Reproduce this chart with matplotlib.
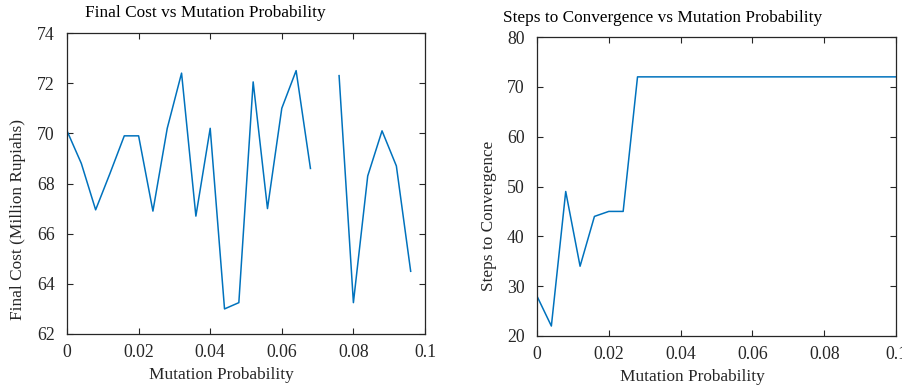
import numpy as np
import matplotlib
matplotlib.use("Agg")
import matplotlib.pyplot as plt

mutation_prob = [0.000, 0.004, 0.008, 0.012, 0.016, 0.020, 0.024, 0.028, 0.032,
                 0.036, 0.040, 0.044, 0.048, 0.052, 0.056, 0.060, 0.064, 0.068,
                 0.072, 0.076, 0.080, 0.084, 0.088, 0.092, 0.096, 0.100]
final_cost = [70.1, 68.8, 66.95, 68.4, 69.9, 69.9, 66.9, 70.2, 72.4,
              66.7, 70.2, 63.0, 63.25, 72.05, 67.0, 71.0, 72.5, 68.6,
              np.nan, 72.3, 63.25, 68.3, 70.1, 68.7, 64.5, np.nan]
steps = [28, 22, 49, 34, 44, 45, 45, 72, 72,
         72, 72, 72, 72, 72, 72, 72, 72, 72,
         72, 72, 72, 72, 72, 72, 72, 72]

xticks = [0, 0.02, 0.04, 0.06, 0.08, 0.1]
xticklabels = ["0", "0.02", "0.04", "0.06", "0.08", "0.1"]
yticks_cost = [62, 64, 66, 68, 70, 72, 74]
yticks_steps = [20, 30, 40, 50, 60, 70, 80]

plt.rcParams['font.family'] = ['Liberation Serif', 'DejaVu Serif']
W, H = 903, 392
fig = plt.figure(figsize=(W / 100, H / 100), dpi=100)
fig.patch.set_facecolor("white")

line_color = "#0072BD"
axis_color = "#262626"
label_size = 12.4
tick_size = 12.8


def style(ax):
    for s in ax.spines.values():
        s.set_color(axis_color)
        s.set_linewidth(0.9)
    ax.tick_params(direction="in", top=True, right=True, length=4, width=0.8,
                   colors=axis_color, labelsize=tick_size)
    ax.tick_params(axis="y", pad=9)
    ax.tick_params(axis="x", pad=7)


def ftext(x, y, s, **kw):
    fig.text(x / W, 1 - y / H, s, ha="center", va="center", **kw)


ax1 = fig.add_axes([67 / W, (H - 334) / H, (425 - 67) / W, (334 - 33) / H])
ax1.plot(mutation_prob, final_cost, color=line_color, lw=1.1)
ax1.set_xlim(0, 0.1)
ax1.set_ylim(62, 74)
ax1.set_xticks(xticks)
ax1.set_xticklabels(xticklabels)
ax1.set_yticks(yticks_cost)
style(ax1)
ftext(221, 375, "Mutation Probability", fontsize=label_size, color=axis_color)
ftext(18, 220, "Final Cost (Million Rupiahs)", fontsize=label_size,
      color=axis_color, rotation=90)
ftext(205, 13, "Final Cost vs Mutation Probability", fontsize=label_size, color="black")

ax2 = fig.add_axes([537 / W, (H - 336) / H, (896 - 537) / W, (336 - 37) / H])
ax2.plot(mutation_prob, steps, color=line_color, lw=1.1)
ax2.set_xlim(0, 0.1)
ax2.set_ylim(20, 80)
ax2.set_xticks(xticks)
ax2.set_xticklabels(xticklabels)
ax2.set_yticks(yticks_steps)
style(ax2)
ftext(692, 377, "Mutation Probability", fontsize=label_size, color=axis_color)
ftext(489, 216, "Steps to Convergence", fontsize=label_size, color=axis_color,
      rotation=90)
ftext(663, 18, "Steps to Convergence vs Mutation Probability", fontsize=label_size,
      color="black")

fig.savefig("out.png", dpi=100)
